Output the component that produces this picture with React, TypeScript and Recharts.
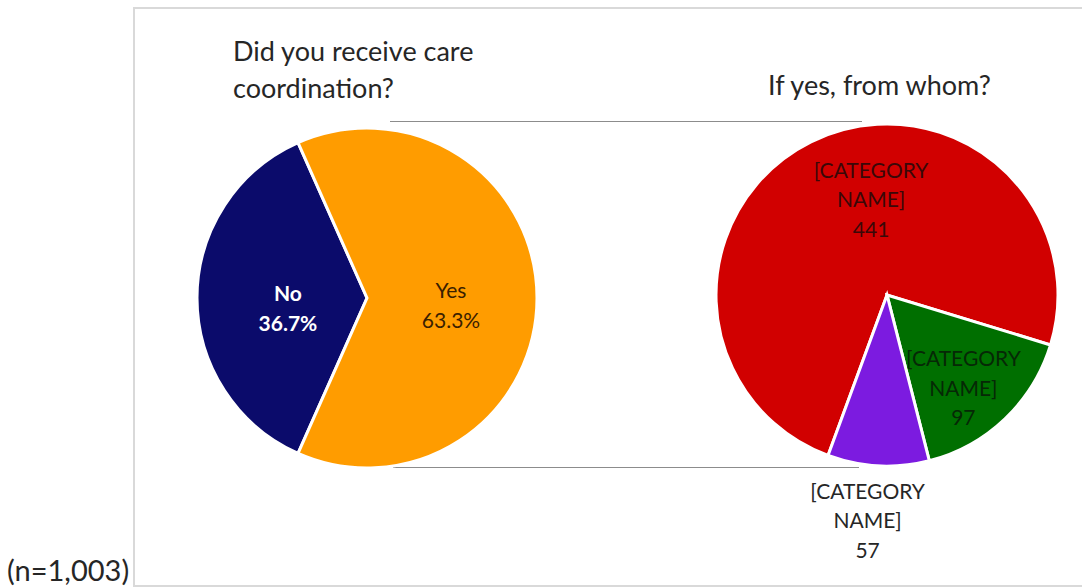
import React from 'react';
import { PieChart, Pie, Cell } from 'recharts';

const primaryNames = ['No', 'Yes'];
const primaryValues = [36.7, 63.3];
const primaryColors = ['#0B0B6B', '#FF9C00'];

const secondaryNames = ['[CATEGORY NAME]', '[CATEGORY NAME]', '[CATEGORY NAME]'];
const secondaryValues = [441, 97, 57];
const secondaryColors = ['#D10000', '#006F00', '#7C1BE0'];

const primaryData = primaryNames.map((n, i) => ({ name: n, value: primaryValues[i] }));
const secondaryData = secondaryNames.map((n, i) => ({ name: n, value: secondaryValues[i] }));

const FONT = 'Lato, "Open Sans", sans-serif';
const RAD = Math.PI / 180;

const primaryLabelStyle = [
  { r: 0.465, fill: '#FFFFFF', weight: 700, dy: 9 },
  { r: 0.494, fill: '#3A2000', weight: 400, dy: 6 },
];
const secondaryLabelStyle = [
  { r: 0.57, fill: '#3A0808', shift: -17 },
  { r: 0.7, fill: '#062806', shift: -4 },
  { r: 1.32, fill: '#262626', shift: -2 },
];

const renderPrimaryLabel = (props: any) => {
  const { cx, cy, midAngle, outerRadius, index, payload } = props;
  const s = primaryLabelStyle[index];
  const x = cx + outerRadius * s.r * Math.cos(-midAngle * RAD);
  const y = cy + outerRadius * s.r * Math.sin(-midAngle * RAD) + s.dy;
  const lines = [payload.name, `${payload.value.toFixed(1)}%`];
  return (
    <text x={x} y={y} textAnchor="middle" fill={s.fill} fontFamily={FONT} fontSize={21} fontWeight={s.weight}>
      {lines.map((l, i) => (
        <tspan key={i} x={x} y={y + (i - 0.5) * 30} dominantBaseline="central">{l}</tspan>
      ))}
    </text>
  );
};

const renderSecondaryLabel = (props: any) => {
  const { cx, cy, midAngle, outerRadius, index, payload } = props;
  const s = secondaryLabelStyle[index];
  const a = midAngle + s.shift;
  const x = cx + outerRadius * s.r * Math.cos(-a * RAD);
  const y = cy + outerRadius * s.r * Math.sin(-a * RAD);
  const parts = String(payload.name).split(' ');
  const lines = [...parts, String(payload.value)];
  return (
    <text x={x} y={y} textAnchor="middle" fill={s.fill} fontFamily={FONT} fontSize={21}>
      {lines.map((l, i) => (
        <tspan key={i} x={x} y={y + (i - 1) * 29.5} dominantBaseline="central">{l}</tspan>
      ))}
    </text>
  );
};

const total2 = secondaryValues.reduce((a, b) => a + b, 0);
const secStart = -17 + (secondaryValues[0] / total2) * 360;
const primStart = 180 - (primaryValues[0] / 100) * 180;

export default function App() {
  return (
    <div style={{ position: 'absolute', left: 0, top: 0, width: 1082, height: 587, background: '#fff', overflow: 'hidden' }}>
      <div style={{ position: 'absolute', left: 133, top: 7, width: 1000, height: 576, border: '2px solid #D9D9D9' }} />
      <div style={{ position: 'absolute', left: 390, top: 121, width: 472, height: 0, borderTop: '1.5px solid #8C8C8C' }} />
      <div style={{ position: 'absolute', left: 393, top: 467, width: 466, height: 0, borderTop: '1.5px solid #8C8C8C' }} />
      <div style={{ position: 'absolute', left: 0, top: 0 }}>
        <PieChart width={1082} height={587} margin={{ top: 0, right: 0, bottom: 0, left: 0 }}>
          <Pie
            data={primaryData}
            dataKey="value"
            nameKey="name"
            cx={367}
            cy={298}
            outerRadius={170}
            startAngle={primStart}
            endAngle={primStart + 360}
            stroke="#FFFFFF"
            strokeWidth={3}
            label={renderPrimaryLabel}
            labelLine={false}
            isAnimationActive={false}
          >
            {primaryData.map((d, i) => (
              <Cell key={i} fill={primaryColors[i]} />
            ))}
          </Pie>
          <Pie
            data={secondaryData}
            dataKey="value"
            nameKey="name"
            cx={887}
            cy={295}
            outerRadius={171}
            startAngle={secStart}
            endAngle={secStart - 360}
            stroke="#FFFFFF"
            strokeWidth={3}
            label={renderSecondaryLabel}
            labelLine={false}
            isAnimationActive={false}
          >
            {secondaryData.map((d, i) => (
              <Cell key={i} fill={secondaryColors[i]} />
            ))}
          </Pie>
        </PieChart>
      </div>
      <div style={{ position: 'absolute', left: 233, top: 32, fontFamily: FONT, fontSize: 27, lineHeight: '37px', color: '#262626', whiteSpace: 'nowrap' }}>
        Did you receive care<br />coordination?
      </div>
      <div style={{ position: 'absolute', left: 768, top: 68, fontFamily: FONT, fontSize: 27, lineHeight: '34px', color: '#262626', whiteSpace: 'nowrap' }}>
        If yes, from whom?
      </div>
      <div style={{ position: 'absolute', left: 7, top: 553, fontFamily: FONT, fontSize: 29, lineHeight: '34px', color: '#262626', whiteSpace: 'nowrap' }}>
        (n=1,003)
      </div>
    </div>
  );
}
